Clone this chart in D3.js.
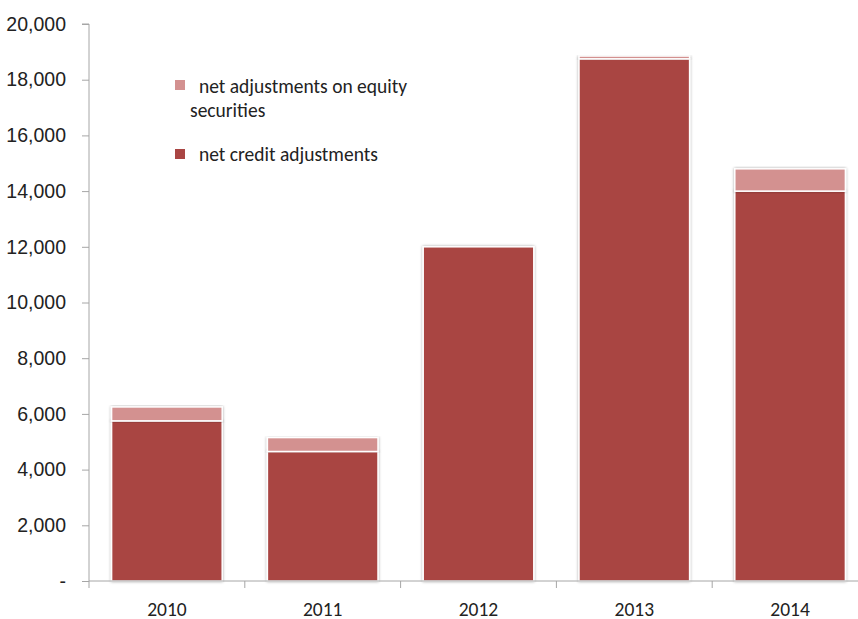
<!DOCTYPE html>
<html>
<head>
<meta charset="utf-8">
<script src="https://cdn.jsdelivr.net/npm/d3@7/dist/d3.min.js"></script>
<style>
  html, body { margin: 0; padding: 0; background: #fff; }
  svg { display: block; font-family: Carlito, "Liberation Sans", Arial, sans-serif; }
</style>
</head>
<body>
<svg id="chart" width="858" height="619"></svg>
<script>
// Annual adjustments, stacked by type
const years = ["2010", "2011", "2012", "2013", "2014"];
const creditAdj = [5750, 4650, 12000, 18750, 14000];
const equityAdj = [500, 500, 0, 100, 800];
const yTicks = [0, 2000, 4000, 6000, 8000, 10000, 12000, 14000, 16000, 18000, 20000];
const seriesNames = ["net credit adjustments", "net adjustments on equity securities"];
const seriesColors = ["#A94543", "#D39190"];

const svg = d3.select("#chart");
const margin = { top: 24, left: 89, bottom: 38 };
const plotW = 779; // plot extends slightly beyond the right edge
const plotH = 619 - margin.top - margin.bottom;

const defs = svg.append("defs");
const shadow = defs.append("filter").attr("id", "barShadow")
  .attr("x", "-10%").attr("y", "-10%").attr("width", "120%").attr("height", "120%");
shadow.append("feGaussianBlur").attr("in", "SourceAlpha").attr("stdDeviation", 1.6).attr("result", "blur");
shadow.append("feComponentTransfer").attr("in", "blur").attr("result", "soft")
  .append("feFuncA").attr("type", "linear").attr("slope", 0.35);
const merge = shadow.append("feMerge");
merge.append("feMergeNode").attr("in", "soft");
merge.append("feMergeNode").attr("in", "SourceGraphic");

const g = svg.append("g").attr("transform", `translate(${margin.left},${margin.top})`);

const x = d3.scaleBand().domain(years).range([0, plotW]).paddingInner(0.29).paddingOuter(0.145);
const xCat = d3.scaleBand().domain(years).range([0, plotW]);
const y = d3.scaleLinear().domain([0, 20000]).range([plotH, 0]);

const rows = years.map((yr, i) => ({ year: yr, credit: creditAdj[i], equity: equityAdj[i] }));
const stack = d3.stack().keys(["credit", "equity"]);
const layers = stack(rows);

// bars
layers.forEach((layer, li) => {
  g.append("g").selectAll("rect")
    .data(layer.filter(d => d[1] - d[0] > 0))
    .join("rect")
    .attr("x", d => x(d.data.year))
    .attr("width", x.bandwidth())
    .attr("y", d => y(d[1]))
    .attr("height", d => y(d[0]) - y(d[1]))
    .attr("fill", seriesColors[li])
    .attr("stroke", "#fff")
    .attr("stroke-width", 1.5)
    .attr("filter", "url(#barShadow)");
});

// y axis
const yAxis = d3.axisLeft(y).tickValues(yTicks).tickSize(7).tickPadding(16)
  .tickFormat(d => d === 0 ? "-" : d3.format(",")(d));
const yg = g.append("g").call(yAxis);
yg.select(".domain").attr("stroke", "#A6A6A6").attr("d", `M0,${plotH}V0H-7`);
yg.selectAll(".tick line").attr("stroke", "#A6A6A6");
yg.selectAll(".tick text").attr("fill", "#222").style("font-size", "19.5px");

// x axis with boundary ticks between categories
const xg = g.append("g").attr("transform", `translate(0,${plotH})`);
xg.append("line").attr("x1", 0).attr("x2", plotW).attr("stroke", "#A6A6A6");
xg.selectAll("line.bound")
  .data(years.concat(["end"]))
  .join("line")
  .attr("class", "bound")
  .attr("x1", (d, i) => i * xCat.bandwidth())
  .attr("x2", (d, i) => i * xCat.bandwidth())
  .attr("y1", 0).attr("y2", 7)
  .attr("stroke", "#A6A6A6");
xg.selectAll("text")
  .data(years)
  .join("text")
  .attr("x", d => xCat(d) + xCat.bandwidth() / 2)
  .attr("y", 34.5)
  .attr("text-anchor", "middle")
  .attr("fill", "#222")
  .style("font-size", "19.5px")
  .text(d => d);

// legend
const legend = svg.append("g").style("font-size", "19.5px").attr("fill", "#222");
legend.append("rect").attr("x", 175).attr("y", 80).attr("width", 10).attr("height", 10).attr("fill", seriesColors[1]);
legend.append("text").attr("x", 199).attr("y", 92.5).text("net adjustments on equity");
legend.append("text").attr("x", 190).attr("y", 116.5).text("securities");
legend.append("rect").attr("x", 175).attr("y", 149).attr("width", 10).attr("height", 10).attr("fill", seriesColors[0]);
legend.append("text").attr("x", 199).attr("y", 160.5).text(seriesNames[0]);
</script>
</body>
</html>
